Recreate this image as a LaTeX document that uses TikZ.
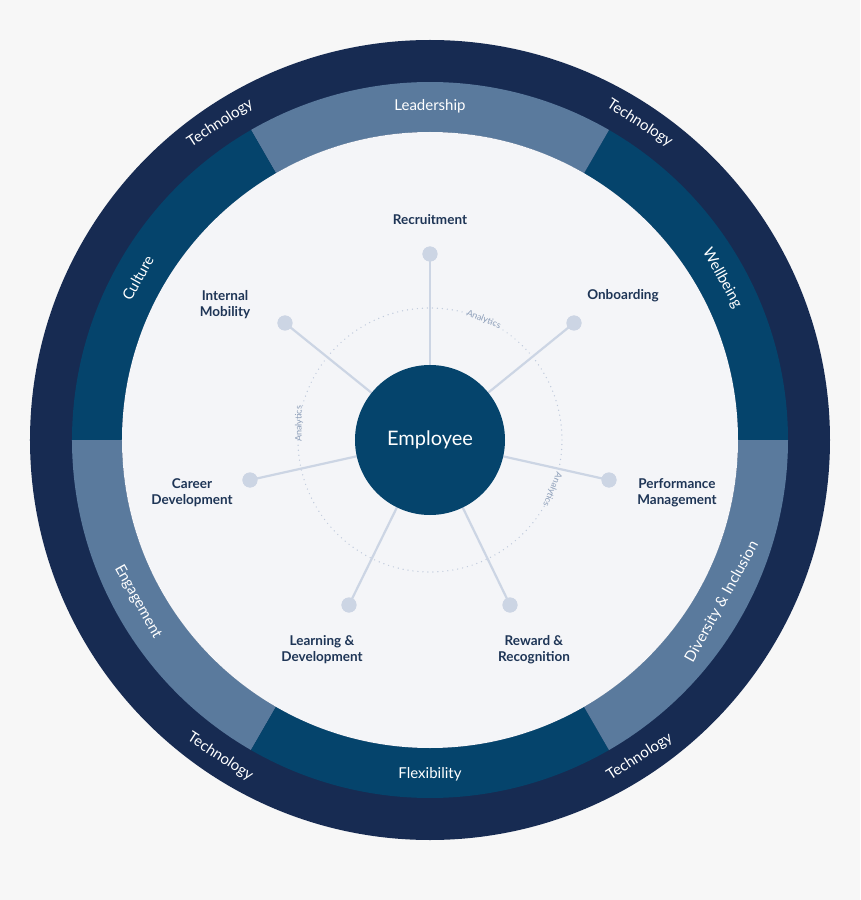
\documentclass[tikz,border=0pt]{standalone}
\usepackage{fontspec}
\setmainfont{Lato}
\begin{document}
\begin{tikzpicture}[x=1pt,y=1pt,
 lbl/.style={font=\fontsize{13.5}{16}\selectfont\bfseries,align=center,text=labc},
 ringt/.style={text=white,font=\fontsize{15}{17}\selectfont},
 ana/.style={text=anac,font=\fontsize{9}{10}\selectfont},
 dotn/.style={circle,fill=spk,minimum size=15pt,inner sep=0pt},
 spoke/.style={draw=spk,line width=2.2pt}]
\definecolor{bg}{HTML}{F7F7F7}
\definecolor{navy}{HTML}{172B52}
\definecolor{dk}{HTML}{05446C}
\definecolor{lt}{HTML}{5A7A9D}
\definecolor{inn}{HTML}{F4F5F8}
\definecolor{spk}{HTML}{CCD5E4}
\definecolor{labc}{HTML}{1E3556}
\definecolor{anac}{HTML}{8FA0BA}
\fill[bg] (-430,-460) rectangle (430,440);
\useasboundingbox (-430,-460) rectangle (430,440);
\fill[navy] (0,0) circle (400);
\foreach \a/\c in {0/dk,60/lt,120/dk,180/lt,240/dk,300/lt}{
 \fill[\c] (\a:358) arc[start angle=\a,end angle=\a+60,radius=358] -- (\a+60:308) arc[start angle=\a+60,end angle=\a,radius=308] -- cycle;}
\fill[inn] (0,0) circle (308);
\draw[spk!80!anac,line width=1.4pt,line cap=round,dash pattern=on 0pt off 5pt] (0,0) circle (132);
% ring labels
\node[ringt] at (90:334) {Leadership};
\node[ringt,rotate=61] at (151:334) {Culture};
\node[ringt,rotate=-61] at (29:334) {Wellbeing};
\node[ringt,rotate=-61] at (209:334) {Engagement};
\node[ringt] at (270:334) {Flexibility};
\node[ringt,rotate=61] at (331:334) {Diversity \& Inclusion};
\node[ringt] (t1) [rotate=33] at (123.5:380) {Technology};
\node[ringt] (t2) [rotate=-33] at (56.5:380) {Technology};
\node[ringt] (t3) [rotate=-33] at (236.5:380) {Technology};
\node[ringt] (t4) [rotate=33] at (303.5:380) {Technology};
% analytics
\node[ana,rotate=-22] at (66:132) {Analytics};
\node[ana,rotate=90] at (173:132) {Analytics};
\node[ana,rotate=-112] at (338:132) {Analytics};
% spokes
\node[dotn] (d1) at (0,186) {};
\node[dotn] (d2) at (144,117) {};
\node[dotn] (d3) at (179,-40) {};
\node[dotn] (d4) at (80,-165) {};
\node[dotn] (d5) at (-81,-165) {};
\node[dotn] (d6) at (-180,-40) {};
\node[dotn] (d7) at (-145,117) {};
\foreach \i in {1,...,7}{\draw[spoke] (0,0) -- (d\i.center);}
\foreach \i in {1,...,7}{\fill[spk] (d\i) circle (7.5);}
\node[circle,fill=dk,minimum size=150pt,text=white,font=\fontsize{20}{24}\selectfont] (emp) at (0,0) {Employee};
\node[lbl] (l1) at (0,220) {Recruitment};
\node[lbl] (l2) at (193,144) {Onboarding};
\node[lbl] (l3) at (247,-53) {Performance\\Management};
\node[lbl] (l4) at (104,-210) {Reward \&\\Recognition};
\node[lbl] (l5) at (-108,-210) {Learning \&\\Development};
\node[lbl] (l6) at (-238,-53) {Career\\Development};
\node[lbl] (l7) at (-205,135) {Internal\\Mobility};
\end{tikzpicture}
\end{document}
